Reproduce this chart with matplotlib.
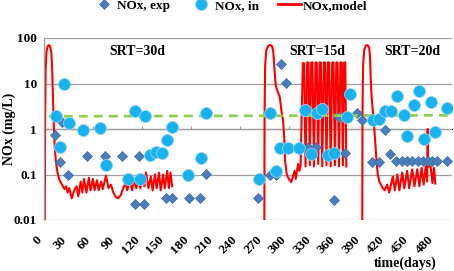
import matplotlib
matplotlib.use('Agg')
import matplotlib.pyplot as plt
from matplotlib.lines import Line2D

plt.rcParams['font.family'] = ['Liberation Serif', 'DejaVu Serif']
plt.rcParams['font.weight'] = 'bold'

# NOx, exp (diamonds)
exp_day = [13, 19, 22, 30, 53, 75, 95, 111, 116, 123,
           150, 157, 178, 191, 198, 262, 277, 284, 291, 297,
           324, 333, 355, 362, 369, 383, 390, 402, 410, 418,
           424, 431, 439, 445, 451, 458, 464, 470, 476, 482, 494]
exp_val = [0.72, 0.19, 1.4, 0.098, 0.26, 0.26, 0.26, 0.023, 0.26, 0.023,
           0.031, 0.031, 0.031, 0.031, 0.105, 0.031, 0.098, 0.098, 27, 10.5,
           0.4, 0.4, 0.027, 1.85, 0.29, 2.3, 1.6, 0.19, 0.19, 0.93,
           0.28, 0.2, 0.2, 0.2, 0.2, 0.2, 0.2, 0.2, 0.2, 0.2, 0.2]

# NOx, in (circles)
in_day = [15, 19, 24, 31, 48, 69, 76, 103, 111, 118,
          124, 130, 137, 145, 151, 157, 177, 193, 199, 263,
          277.5, 284, 289, 299, 312, 320, 327, 334, 341, 348,
          356, 371, 375, 403, 411, 418, 425, 432, 441, 445,
          453, 459, 466, 474, 479, 494]
in_val = [1.98, 0.4, 10, 1.34, 0.96, 1.03, 0.16, 0.078, 2.46, 0.078,
          1.98, 0.27, 0.32, 0.29, 0.58, 1.09, 0.1, 0.23, 2.27, 0.078,
          2.3, 0.12, 0.38, 0.38, 0.38, 2.65, 0.285, 2.3, 2.7, 0.27,
          0.3, 1.88, 5.8, 1.6, 1.65, 2.55, 2.55, 5.3, 2.05, 0.7,
          3.3, 6.8, 0.6, 4.0, 0.88, 2.9]

# NOx, model - SRT=30d
m1_day = [1, 1.3, 2, 3, 4.5, 6, 7.5, 9, 10, 11, 12, 13, 14.5, 16.5, 19, 22, 25,
          27, 29, 31, 34, 37, 40, 42, 45, 47, 49, 52, 55, 57, 60, 62, 65, 67, 70, 72,
          76, 79, 82, 85, 88, 91, 94, 97, 100, 102, 105, 108, 110, 113, 116, 118,
          121, 123, 125, 128, 131, 133, 136, 138, 141, 143, 146, 148, 151, 153, 155, 157]
m1_val = [0.005, 1, 20, 50, 66, 70, 65, 48, 20, 5, 1.2, 0.45, 0.2, 0.11, 0.075, 0.06, 0.048,
          0.055, 0.04, 0.05, 0.03, 0.045, 0.055, 0.033, 0.07, 0.04, 0.08, 0.04, 0.085, 0.045,
          0.08, 0.045, 0.075, 0.045, 0.07, 0.048, 0.095, 0.05, 0.06, 0.04, 0.032, 0.03, 0.035,
          0.05, 0.065, 0.045, 0.075, 0.045, 0.08, 0.05, 0.085, 0.05, 0.09, 0.055, 0.11, 0.05,
          0.09, 0.045, 0.1, 0.05, 0.11, 0.045, 0.1, 0.05, 0.12, 0.05, 0.11, 0.055]

# NOx, model - SRT=15d
m2_day = [270, 270.3, 271, 272.5, 275, 277, 279.5, 281, 282.5, 284, 286, 289, 291, 293,
          294.5, 295.5, 297.5, 300, 303, 305, 307, 308.5, 310, 311.5, 313, 314.5,
          317.2, 318.8, 320.5, 322.5, 324.1, 325.8, 327.4, 329, 330.8, 332.7, 334.3, 336,
          337.7, 339.3, 341, 343, 344.6, 346.2, 347.9, 349.5, 351.3, 353.2, 354.8, 356.5,
          358.2, 359.8, 361.5, 363.2, 364.8, 366.3, 367.6, 369.2, 370.5]
m2_val = [0.005, 2, 25, 55, 68, 70, 66, 50, 20, 9, 7, 5, 2.5, 1.5,
          0.6, 0.2, 0.1, 0.08, 0.068, 0.09, 0.12, 0.08, 0.12, 0.17, 0.12, 0.16,
          28, 28, 0.15, 29, 29, 0.16, 29, 29, 0.15, 29, 29, 0.17,
          29, 29, 0.15, 29, 29, 0.16, 29, 29, 0.15, 29, 29, 0.16,
          29, 29, 0.15, 29, 29, 0.16, 29, 29, 0.15]

# NOx, model - SRT=20d
m3_day = [390, 390.3, 391, 392.5, 394.5, 396.5, 398.5, 399.5, 400.5, 401.5,
          403, 404.5, 406, 407.5, 409, 411, 413, 415, 417.5, 420.5,
          423, 427.5, 430, 433, 435.5, 439, 441.5, 445, 447.5, 451.3,
          454, 457.4, 460, 462.8, 465.3, 467.7, 469.5, 470.2, 470.8, 473.8,
          476, 478, 479.5]
m3_val = [0.005, 2, 25, 55, 68, 70, 62, 40, 12, 5,
          2.5, 1.2, 0.5, 0.2, 0.1, 0.07, 0.06, 0.05, 0.045, 0.06,
          0.04, 0.09, 0.045, 0.1, 0.045, 0.11, 0.05, 0.12, 0.05, 0.13,
          0.055, 0.13, 0.055, 0.14, 0.06, 0.15, 0.07, 1.0, 0.15, 0.15,
          0.065, 0.14, 0.063]

# dashed reference line
ref_day = [6, 500]
ref_val = [1.9, 2.0]

srt_labels = ['SRT=30d', 'SRT=15d', 'SRT=20d']
srt_day = [114, 335, 452]
srt_val = [50, 50, 50]

x_ticks = list(range(0, 481, 30))
y_ticks = [0.01, 0.1, 1, 10, 100]
y_ticklabels = ['0.01', '0.1', '1', '10', '100']

diam_c, circ_c, red_c, green_c = '#4A7EBB', '#1AB2EE', '#FF0000', '#92D050'

fig = plt.figure(figsize=(4.54, 2.71), dpi=100)
ax = fig.add_axes([44/454, 1-220/271, 408/454, 182/271])

ax.set_yscale('log')
ax.set_ylim(0.01, 100)
ax.set_xlim(0, 500)

for d, v in [(m1_day, m1_val), (m2_day, m2_val), (m3_day, m3_val)]:
    ax.plot(d, v, color=red_c, lw=1.5, zorder=2, solid_joinstyle='round')
ax.plot(exp_day, exp_val, ls='none', marker='D', ms=5.2, mfc=diam_c, mec='#3D6CA3',
        mew=0.5, zorder=3)
ax.plot(ref_day, ref_val, color=green_c, lw=2, ls=(0, (3.2, 2.2)), zorder=3.5)
ax.plot(in_day, in_val, ls='none', marker='o', ms=8.6, mfc=circ_c, mec='#8ED3F2',
        mew=0.6, zorder=4)

for t, d, v in zip(srt_labels, srt_day, srt_val):
    ax.text(d, v, t, ha='center', va='center', fontsize=10, fontweight='bold')

ax.set_yticks(y_ticks)
ax.set_yticklabels(y_ticklabels)
ax.minorticks_off()
ax.set_xticks(x_ticks)
ax.set_xticklabels([str(t) for t in x_ticks], rotation=45, ha='right')
ax.tick_params(axis='both', length=0, labelsize=9.5)
ax.tick_params(axis='x', pad=10)
ax.tick_params(axis='y', pad=5)
for lab in ax.get_xticklabels() + ax.get_yticklabels():
    lab.set_fontweight('bold')

ax.yaxis.grid(True, color='#A0A0A0', lw=0.9)
ax.set_axisbelow(True)
for s in ['top', 'right', 'bottom']:
    ax.spines[s].set_visible(False)
ax.spines['left'].set_color('#A0A0A0')
ax.spines['left'].set_linewidth(0.9)

# horizontal axis crosses at y=1 with tick marks every 60 days
sec = ax.secondary_xaxis(0.5)
sec.set_xticks(list(range(0, 501, 60)))
sec.set_xticklabels([])
sec.tick_params(length=2.5, color='#A0A0A0', width=0.9)
sec.spines['bottom'].set_color('#A0A0A0')
sec.spines['bottom'].set_linewidth(0.9)

fig.text(9/454, 1-129/271, 'NOx (mg/L)', ha='center', va='center', rotation=90,
         fontsize=10, fontweight='bold')
fig.text(405/454, 1-263/271, 'time(days)', ha='center', va='center',
         fontsize=10, fontweight='bold')

handles = [Line2D([], [], ls='none', marker='D', ms=5.2, mfc=diam_c, mec='#3D6CA3', mew=0.5),
           Line2D([], [], ls='none', marker='o', ms=8.6, mfc=circ_c, mec='#8ED3F2', mew=0.6),
           Line2D([], [], color=red_c, lw=2)]
fig.legend(handles, ['NOx, exp', 'NOx, in', 'NOx,model'], loc='upper center',
           bbox_to_anchor=(0.507, 1.045), ncol=3, frameon=False, handlelength=1.7,
           handletextpad=0.15, columnspacing=1.5, prop={'size': 9.5, 'weight': 'bold'})

fig.savefig('out.png', dpi=100)
